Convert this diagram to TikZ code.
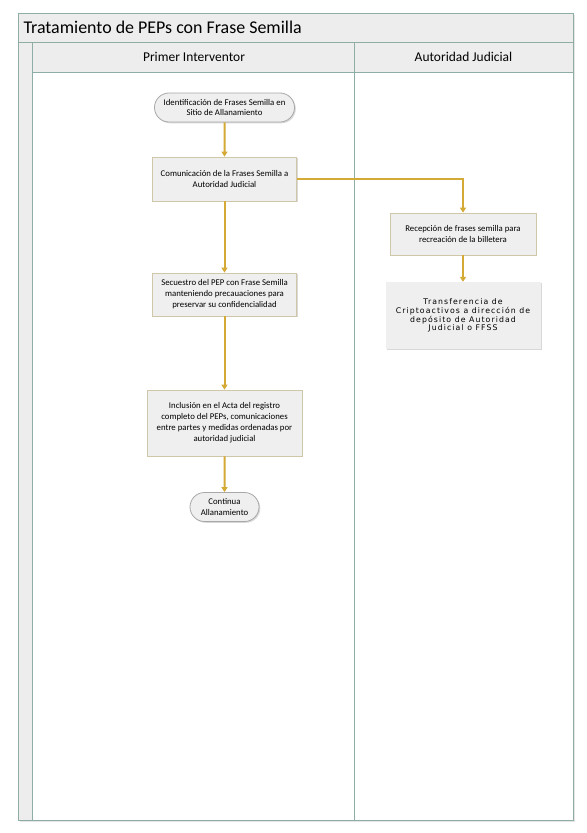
\documentclass[tikz,border=0pt]{standalone}
\usepackage{fontspec}
\setmainfont{Carlito}
\newfontfamily\widefont[LetterSpace=14]{DejaVu Sans}
\usetikzlibrary{shapes.misc,arrows.meta}
\definecolor{frameline}{HTML}{8EADA6}
\definecolor{bandfill}{HTML}{EDEDED}
\definecolor{boxfill}{HTML}{EFEFEF}
\definecolor{boxline}{HTML}{CFC7A8}
\definecolor{termline}{HTML}{A8A8A8}
\definecolor{flow}{HTML}{D4A935}
\definecolor{shadowcol}{HTML}{D8D8D8}
\tikzset{
  band/.style={fill=bandfill, draw=frameline, line width=0.9bp},
  softshadow/.style={preaction={fill=shadowcol, draw=none, transform canvas={xshift=1.3bp,yshift=-1.3bp}}},
  procbox/.style={rectangle, softshadow, fill=boxfill, draw=boxline, line width=0.8bp, align=center,
    font=\fontsize{8.8}{11}\selectfont, inner sep=2pt},
  plainbox/.style={rectangle, softshadow, fill=boxfill, align=center,
    font=\widefont\fontsize{7.8}{8.8}\selectfont, inner sep=2pt},
  termbox/.style={rounded rectangle, softshadow, fill=boxfill, draw=termline, line width=0.8bp, align=center,
    font=\fontsize{8.8}{11}\selectfont, inner sep=2pt},
  flowarrow/.style={color=flow, line width=2bp, -{Triangle[width=6bp,length=5bp]}}
}
\begin{document}
\begin{tikzpicture}[x=1bp,y=-1bp]
\useasboundingbox (0,0) rectangle (587,833);
\fill[white] (0,0) rectangle (587,833);
% outer shadow
\fill[black!10] (19.5,15) rectangle (575,822);
% title band
\draw[band] (18,13) rectangle (573,42);
\node[anchor=west, font=\fontsize{18}{20}\selectfont] (title) at (20,27.5) {Tratamiento de PEPs con Frase Semilla};
% left strip
\draw[band] (18,42) rectangle (32,820);
% lane headers
\draw[band] (32,42) rectangle (354,72);
\draw[band] (354,42) rectangle (573,72);
\node[font=\fontsize{13.5}{15}\selectfont] (lane1) at (194,57) {Primer Interventor};
\node[font=\fontsize{13.5}{15}\selectfont] (lane2) at (463.5,57) {Autoridad Judicial};
% lane bodies
\draw[fill=white, draw=frameline, line width=0.9bp] (32,72) rectangle (354,820);
\draw[fill=white, draw=frameline, line width=0.9bp] (354,72) rectangle (573,820);

% nodes
\node[termbox, minimum width=144bp, minimum height=29bp] (start) at (224.5,107.5)
  {Identificación de Frases Semilla en\\Sitio de Allanamiento};
\node[procbox, minimum width=144bp, minimum height=44bp] (comm) at (224.5,179)
  {Comunicación de la Frases Semilla a\\Autoridad Judicial};
\node[procbox, minimum width=144bp, minimum height=43bp] (secu) at (224.5,294.5)
  {Secuestro del PEP con Frase Semilla\\manteniendo precauaciones para\\preservar su confidencialidad};
\node[procbox, minimum width=155bp, minimum height=66bp] (incl) at (224.5,423)
  {Inclusión en el Acta del registro\\completo del PEPs, comunicaciones\\entre partes y medidas ordenadas por\\autoridad judicial};
\node[termbox, minimum width=73bp, minimum height=29bp] (fin) at (224.5,507)
  {Continua\\Allanamiento};
\node[procbox, minimum width=146bp, minimum height=42bp] (recep) at (463,234)
  {Recepción de frases semilla para\\recreación de la billetera};
\node[plainbox, minimum width=155bp, minimum height=67bp] (trans) at (463,315.5)
  {Transferencia de\\Criptoactivos a dirección de\\depósito de Autoridad\\Judicial o FFSS};

% connectors
\draw[flowarrow] (start) -- (comm);
\draw[flowarrow] (comm) -- (secu);
\draw[flowarrow] (secu) -- (incl);
\draw[flowarrow] (incl) -- (fin);
\draw[flowarrow] (comm.east) -| (recep.north);
\draw[flowarrow] (recep) -- (trans);
\end{tikzpicture}
\end{document}
